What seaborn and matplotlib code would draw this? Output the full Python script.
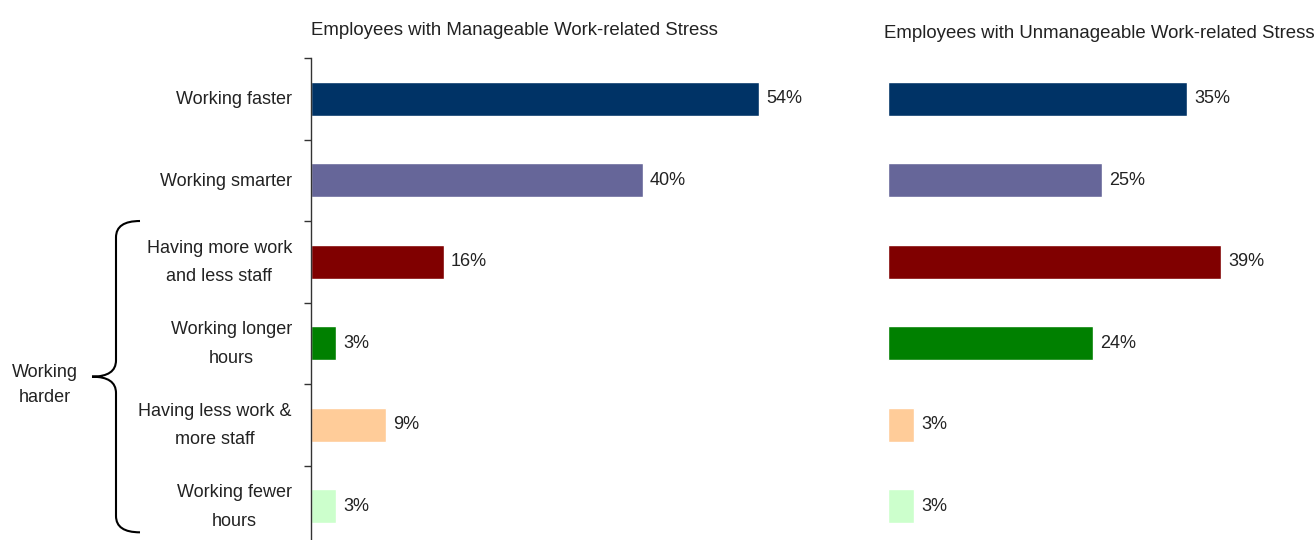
import matplotlib.pyplot as plt
import matplotlib.transforms as mtransforms
from matplotlib.patches import PathPatch
from matplotlib.path import Path
import pandas as pd
import seaborn as sns

# --- データ ---
categories = [
    "Working faster",
    "Working smarter",
    "Having more work\nand less staff",
    "Working longer\nhours",
    "Having less work &\nmore staff",
    "Working fewer\nhours",
]
manageable = [54, 40, 16, 3, 9, 3]
unmanageable = [35, 25, 39, 24, 3, 3]
colors = ["#003366", "#666699", "#800000", "#008000", "#FFCC99", "#CCFFCC"]
titles = [
    "Employees with Manageable Work-related Stress",
    "Employees with Unmanageable Work-related Stress",
]

sns.set_theme(style="white")
plt.rcParams["font.family"] = ["Liberation Sans Narrow", "Liberation Sans", "DejaVu Sans"]
FS = 13
TXT = "#222222"

W, H = 1315, 540
fig = plt.figure(figsize=(W / 100, H / 100), dpi=100)

# 左: 0-60% (約 8.3px/%), 右: 0-50% (約 8.5px/%)
ax1 = fig.add_axes([311 / W, (H - 547) / H, 498 / W, 489 / H])
ax2 = fig.add_axes([888 / W, (H - 547) / H, 427 / W, 489 / H])

df = pd.DataFrame({"category": categories, "manageable": manageable, "unmanageable": unmanageable})
palette = dict(zip(categories, colors))

for ax, col, xmax, title, tx, ty in [
    (ax1, "manageable", 60, titles[0], 311, 31),
    (ax2, "unmanageable", 50, titles[1], 884, 33),
]:
    sns.barplot(data=df, y="category", x=col, hue="category", palette=palette,
                orient="h", width=0.42, legend=False, ax=ax, saturation=1)
    ax.set_xlim(0, xmax)
    ax.set_ylim(len(categories) - 0.5, -0.5)
    ax.set_xlabel("")
    ax.set_ylabel("")
    ax.set_xticks([])
    for bar, v in zip(ax.patches, df[col]):
        ax.text(bar.get_width() + 0.85, bar.get_y() + bar.get_height() / 2,
                f"{v}%", va="center", ha="left", fontsize=FS, color=TXT)
    fig.text(tx / W, 1 - ty / H, title, ha="left", va="center", fontsize=13.4, color=TXT)

# 左パネル: 左軸のみ、区切り位置に目盛
for s in ["top", "right", "bottom"]:
    ax1.spines[s].set_visible(False)
ax1.spines["left"].set_color("#333333")
ax1.spines["left"].set_linewidth(1.0)
ax1.set_yticks(range(len(categories)))
ax1.set_yticklabels([])
ax1.set_yticks([i - 0.5 for i in range(len(categories) + 1)], minor=True)
ax1.tick_params(axis="y", which="major", length=0)
ax1.tick_params(axis="y", which="minor", length=5, width=1, color="#333333", direction="out", left=True)

# カテゴリ名は手で配置（行間を広めに）
lab_tr = mtransforms.blended_transform_factory(ax1.transAxes, ax1.transData)
for i, name in enumerate(categories):
    ax1.text(-19 / 498, i + 0.01, name, transform=lab_tr, ha="right", va="center",
             fontsize=FS, color=TXT, multialignment="center", linespacing=1.9)

for s in ["top", "right", "bottom", "left"]:
    ax2.spines[s].set_visible(False)
ax2.set_yticks([])

# "Working harder" の波括弧
tr = mtransforms.blended_transform_factory(fig.transFigure, ax1.transData)
x_end, x_stem, x_tip = 140 / W, 116 / W, 92 / W
top, bot = 1.5, 5.32
mid = (top + bot) / 2
d = 0.2
verts = [
    (x_end, top), (x_stem, top), (x_stem, top + d),
    (x_stem, mid - d),
    (x_stem, mid), (x_tip, mid),
    (x_stem, mid), (x_stem, mid + d),
    (x_stem, bot - d),
    (x_stem, bot), (x_end, bot),
]
codes = [Path.MOVETO, Path.CURVE3, Path.CURVE3, Path.LINETO,
         Path.CURVE3, Path.CURVE3, Path.CURVE3, Path.CURVE3,
         Path.LINETO, Path.CURVE3, Path.CURVE3]
brace = PathPatch(Path(verts, codes), transform=tr, fill=False, lw=1.5,
                  edgecolor="black", clip_on=False)
fig.add_artist(brace)
fig.text(45 / W, 1 - 385 / H, "Working\nharder", ha="center", va="center",
         fontsize=FS, color=TXT, multialignment="center", linespacing=1.55)

fig.savefig("out.png", dpi=100)
